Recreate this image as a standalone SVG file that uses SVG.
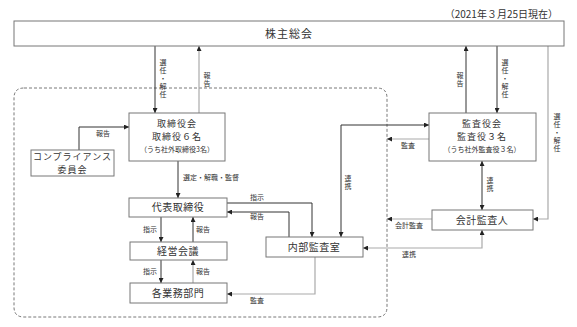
<svg xmlns="http://www.w3.org/2000/svg" width="577" height="327" viewBox="0 0 577 327">
<defs>
<marker id="ah" viewBox="0 0 6 6" refX="6" refY="3" markerWidth="5" markerHeight="5" orient="auto-start-reverse" markerUnits="userSpaceOnUse"><path d="M0,0 L6,3 L0,6 z" fill="#222"/></marker>
</defs>
<style>
text{font-family:"Noto Sans CJK JP","Noto Sans",sans-serif;fill:#333}
.box{fill:#fff;stroke:#777;stroke-width:1}
.bt{font-size:10px;text-anchor:middle;letter-spacing:0.5px}
.b9{font-size:9px;text-anchor:middle;letter-spacing:1px}
.sm{font-size:7px;text-anchor:middle}
.lb{font-size:7px}
.vt{font-size:7px;writing-mode:vertical-rl;text-anchor:start;letter-spacing:1px}
.dk{fill:none;stroke:#333;stroke-width:1}
.gr{fill:none;stroke:#aaa;stroke-width:1.2}
</style>
<rect width="577" height="327" fill="#fff"/>
<text x="558" y="18" font-size="10" text-anchor="end">（2021年３月25日現在）</text>
<path d="M24,88 H377 Q387,88 387,98 V307 Q387,317 377,317 H24 Q14,317 14,307 V98 Q14,88 24,88 Z" fill="none" stroke="#555" stroke-width="0.8" stroke-dasharray="3,2"/>
<g id="connectors">
<line class="dk" x1="155" y1="46" x2="155" y2="113" marker-end="url(#ah)"/>
<line class="gr" x1="199" y1="113" x2="199" y2="46" marker-end="url(#ah)"/>
<line class="dk" x1="466" y1="113" x2="466" y2="46" marker-end="url(#ah)"/>
<line class="dk" x1="497" y1="46" x2="497" y2="113" marker-end="url(#ah)"/>
<polyline class="gr" points="548,46 548,219 533,219" marker-end="url(#ah)"/>
<polyline class="dk" points="79,150 79,127 129,127" marker-end="url(#ah)"/>
<line class="dk" x1="178" y1="161" x2="178" y2="198" marker-end="url(#ah)"/>
<polyline class="dk" points="227,203 312,203 312,237" marker-end="url(#ah)"/>
<polyline class="dk" points="289,237 289,212 227,212" marker-end="url(#ah)"/>
<polyline class="dk" points="429,125 341,125 341,237" marker-start="url(#ah)" marker-end="url(#ah)"/>
<line class="gr" x1="429" y1="139" x2="387" y2="139" marker-end="url(#ah)"/>
<line class="dk" x1="482" y1="161" x2="482" y2="210" marker-start="url(#ah)" marker-end="url(#ah)"/>
<line class="gr" x1="432" y1="219" x2="387" y2="219" marker-end="url(#ah)"/>
<polyline class="gr" points="482,230 482,248 363,248" marker-start="url(#ah)" marker-end="url(#ah)"/>
<polyline class="gr" points="315,257 315,294 227,294" marker-end="url(#ah)"/>
<line class="dk" x1="161" y1="217" x2="161" y2="242" marker-end="url(#ah)"/>
<line class="dk" x1="193" y1="242" x2="193" y2="217" marker-end="url(#ah)"/>
<line class="dk" x1="161" y1="260" x2="161" y2="283" marker-end="url(#ah)"/>
<line class="gr" x1="193" y1="283" x2="193" y2="260" marker-end="url(#ah)"/>
</g>
<g id="labels">
<text class="vt" x="163" y="59">選任・解任</text>
<text class="vt" x="207" y="72">報告</text>
<text class="vt" x="460" y="72">報告</text>
<text class="vt" x="505" y="59">選任・解任</text>
<text class="vt" x="557" y="113">選任・解任</text>
<text class="lb" x="96" y="136">報告</text>
<text class="lb" x="183" y="180">選定・解職・監督</text>
<text class="lb" x="250" y="200">指示</text>
<text class="lb" x="250" y="219">報告</text>
<text class="vt" x="348" y="175">連携</text>
<text class="lb" x="401" y="148">監査</text>
<text class="vt" x="490" y="177">連携</text>
<text class="lb" x="395" y="228">会計監査</text>
<text class="lb" x="402" y="257">連携</text>
<text class="lb" x="250" y="303">監査</text>
<text class="lb" x="143" y="232">指示</text>
<text class="lb" x="196" y="232">報告</text>
<text class="lb" x="143" y="274">指示</text>
<text class="lb" x="196" y="274">報告</text>
</g>
<g id="shareholders"><rect class="box" x="14" y="21" width="550" height="25"/><text x="289" y="37.5" font-size="11" text-anchor="middle" letter-spacing="1">株主総会</text></g>
<g id="board"><rect class="box" x="129" y="113" width="96" height="48"/><text class="b9" x="177" y="127">取締役会</text><text class="b9" x="177" y="140">取締役６名</text><text class="sm" x="177" y="151.5">（うち社外取締役3名）</text></g>
<g id="compliance"><rect class="box" x="31" y="150" width="83" height="26"/><text class="b9" x="72.5" y="160" font-size="8.5">コンプライアンス</text><text class="b9" x="72.5" y="172.5" font-size="8.5">委員会</text></g>
<g id="auditboard"><rect class="box" x="429" y="113" width="107" height="48"/><text class="b9" x="482" y="127">監査役会</text><text class="b9" x="482" y="140">監査役３名</text><text class="sm" x="482" y="151.5">（うち社外監査役３名）</text></g>
<g id="ceo"><rect class="box" x="129" y="198" width="98" height="19"/><text class="bt" x="178" y="211">代表取締役</text></g>
<g id="mgmt"><rect class="box" x="130" y="242" width="97" height="18"/><text class="bt" x="178" y="254.5">経営会議</text></g>
<g id="depts"><rect class="box" x="130" y="283" width="97" height="20"/><text class="bt" x="178" y="296.5">各業務部門</text></g>
<g id="internalaudit"><rect class="box" x="266" y="237" width="97" height="20"/><text class="bt" x="314" y="250.5">内部監査室</text></g>
<g id="accountant"><rect class="box" x="432" y="210" width="101" height="20"/><text class="bt" x="482" y="223.5">会計監査人</text></g>
</svg>
